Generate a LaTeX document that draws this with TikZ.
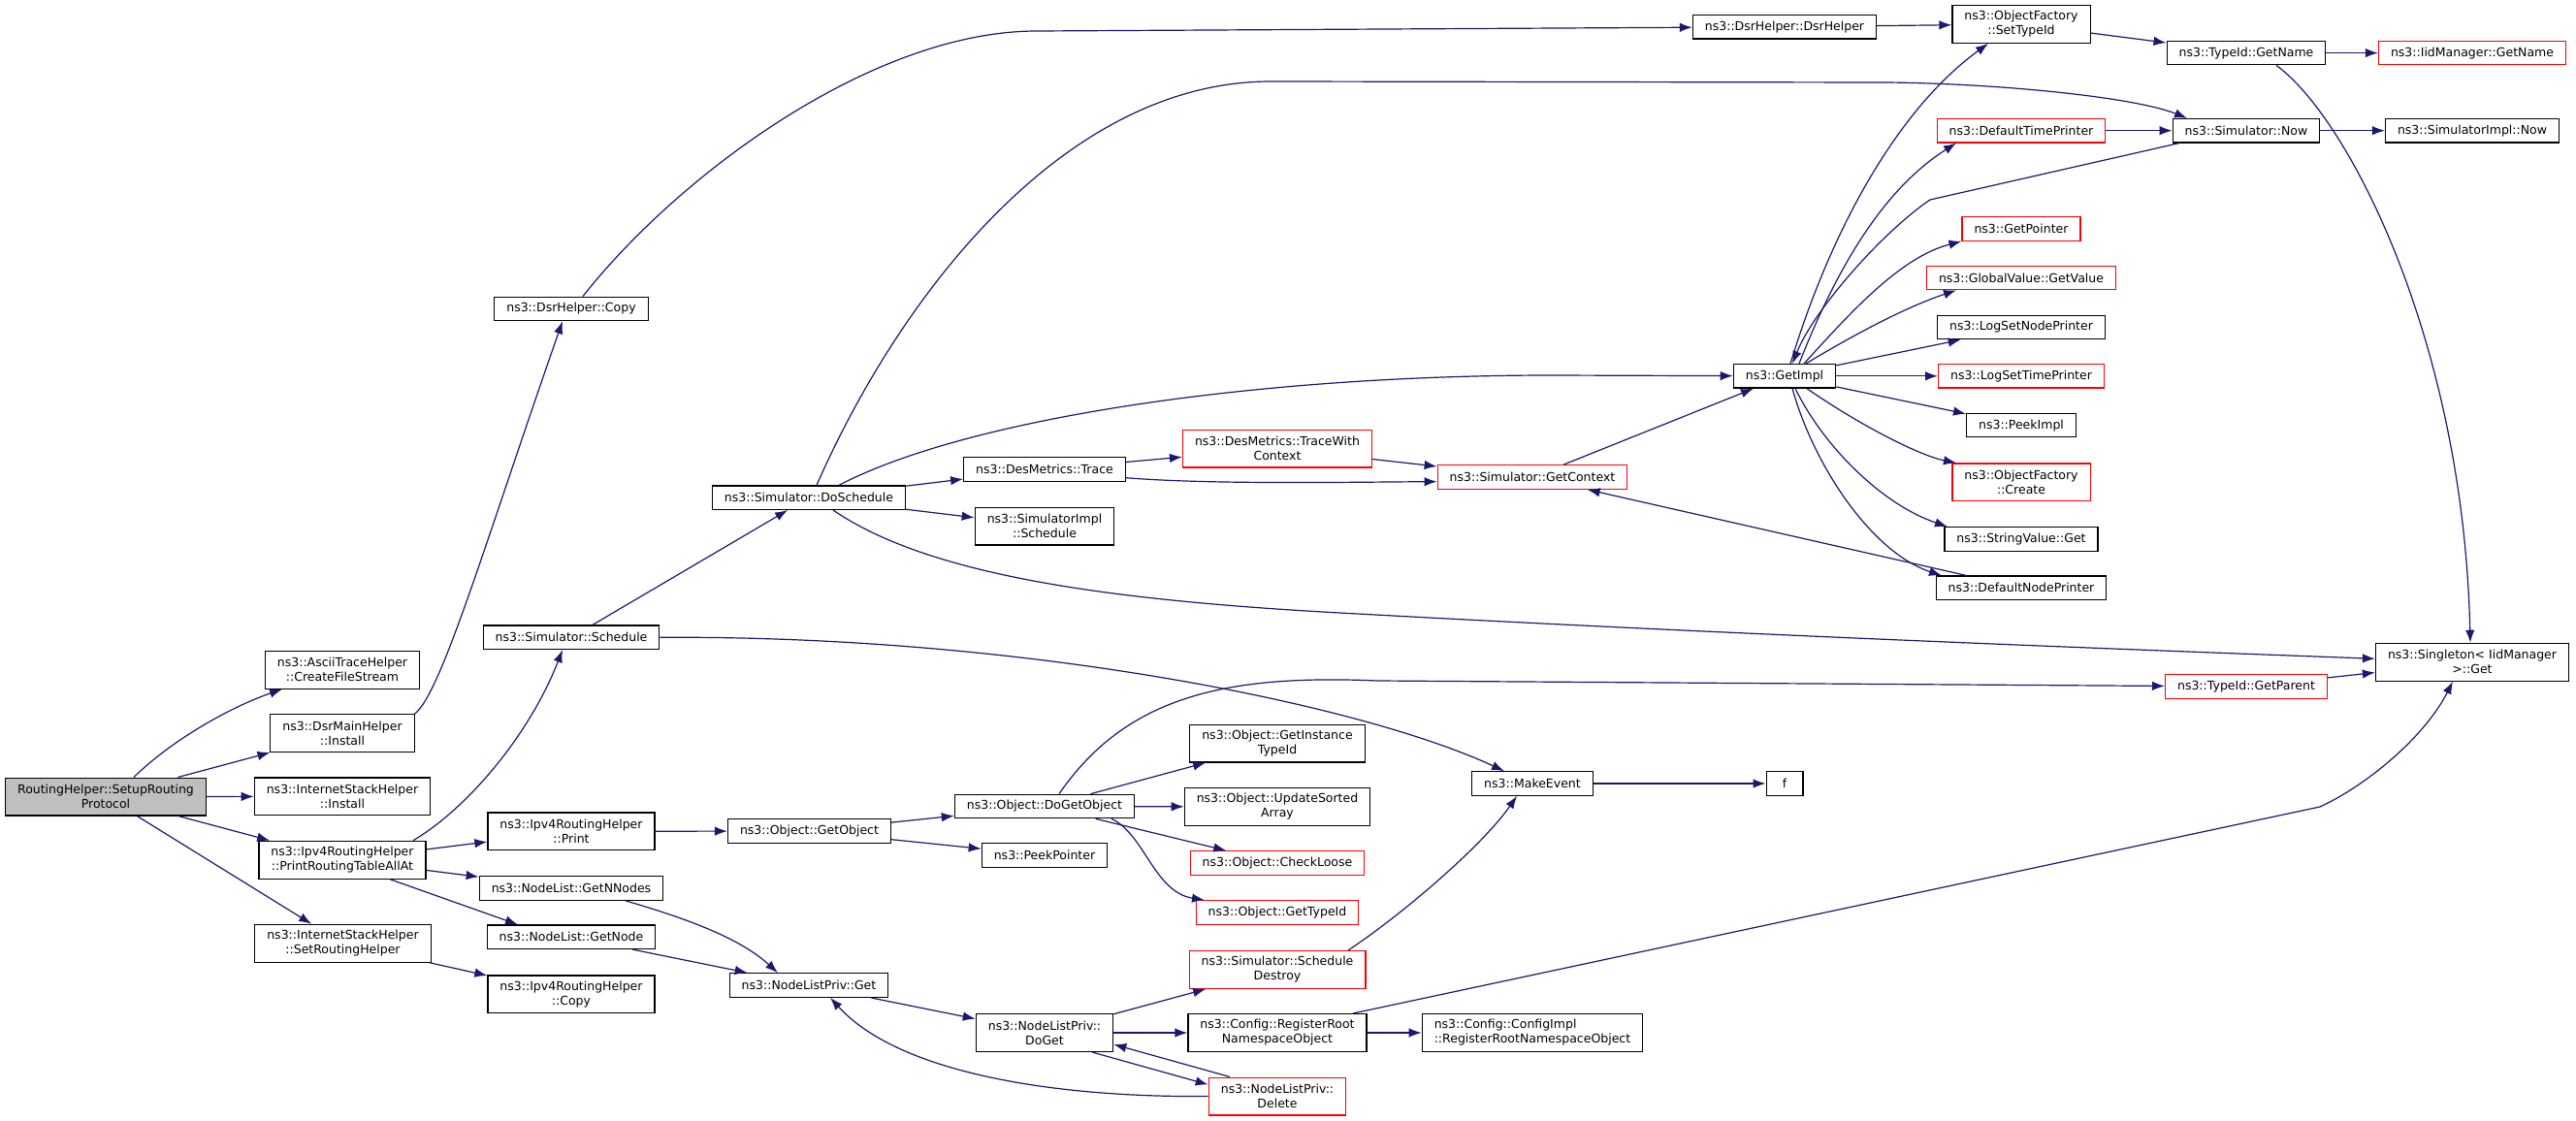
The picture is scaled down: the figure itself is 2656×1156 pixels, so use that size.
\documentclass[tikz,border=0pt]{standalone}
\usepackage{fontspec}
\setmainfont{DejaVu Sans}
\usepackage{tikz}
\usetikzlibrary{arrows.meta}
\definecolor{edgeblue}{HTML}{191970}
\definecolor{rootgray}{HTML}{BFBFBF}

\begin{document}
\begin{tikzpicture}[
    x=1pt, y=1pt,
    >={Latex[length=13pt,width=9.5pt]},
    font=\fontsize{12.5}{15}\selectfont,
    func/.style={
		rectangle,
		draw=black,
		line width=1.2pt,
		align=center,
		inner xsep=12.5pt,
		inner ysep=5pt,
		minimum height=24.5pt,
		fill=white
	},
	tall/.style={
		minimum height=38.8pt
	},
	missing/.style={
		func,
		draw=red
	},
	call/.style={
		->,
		draw=edgeblue,
		line width=1.2pt
	}
  ]
  \path [use as bounding box, fill=white] (0,0) rectangle (2656,-1156);

    % We start by placing the functions, column by column
  \node [func, tall, fill=rootgray] (setup) at (109,-821.5) {RoutingHelper::SetupRouting\\Protocol};

  \node [func, tall] (ascii) at (353,-690.7) {ns3::AsciiTraceHelper\\::CreateFileStream};
  \node [func, tall] (dsrmain) at (353,-756) {ns3::DsrMainHelper\\::Install};
  \node [func, tall] (isinstall) at (353,-821.3) {ns3::InternetStackHelper\\::Install};
  \node [func, tall] (printall) at (353,-886.7) {ns3::Ipv4RoutingHelper\\::PrintRoutingTableAllAt};
  \node [func, tall] (setrouting) at (353.5,-972.8) {ns3::InternetStackHelper\\::SetRoutingHelper};

  \node [func] (dsrcopy) at (589,-318.4) {ns3::DsrHelper::Copy};
  \node [func] (simschedule) at (589,-657.3) {ns3::Simulator::Schedule};
  \node [func, tall] (print) at (589,-857.3) {ns3::Ipv4RoutingHelper\\::Print};
  \node [func] (getnnodes) at (589,-916) {ns3::NodeList::GetNNodes};
  \node [func] (getnode) at (589,-966.3) {ns3::NodeList::GetNode};
  \node [func, tall] (ipv4copy) at (589,-1025.3) {ns3::Ipv4RoutingHelper\\::Copy};

  \node [func] (doschedule) at (834,-513.2) {ns3::Simulator::DoSchedule};
  \node [func] (getobject) at (834.5,-857) {ns3::Object::GetObject};
  \node [func] (nlpget) at (834,-1016) {ns3::NodeListPriv::Get};

  \node [func] (dstrace) at (1077,-484) {ns3::DesMetrics::Trace};
  \node [func, tall] (simimplsched) at (1077,-542.5) {ns3::SimulatorImpl\\::Schedule};
  \node [func] (dogetobject) at (1077,-831.5) {ns3::Object::DoGetObject};
  \node [func] (peekpointer) at (1077,-882) {ns3::PeekPointer};
  \node [func, tall] (doget) at (1077,-1065) {ns3::NodeListPriv::\\DoGet};

  \node [missing, tall] (tracectx) at (1317,-462.5) {ns3::DesMetrics::TraceWith\\Context};
  \node [func, tall] (getinst) at (1317,-766.5) {ns3::Object::GetInstance\\TypeId};
  \node [func, tall] (updsorted) at (1317,-832) {ns3::Object::UpdateSorted\\Array};
  \node [missing] (checkloose) at (1317,-890) {ns3::Object::CheckLoose};
  \node [missing] (gettypeid) at (1317,-941) {ns3::Object::GetTypeId};
  \node [missing, tall] (schdestroy) at (1317,-1000) {ns3::Simulator::Schedule\\Destroy};
  \node [func, tall] (regroot) at (1317,-1065) {ns3::Config::RegisterRoot\\NamespaceObject};
  \node [missing, tall] (nlpdelete) at (1317,-1130.5) {ns3::NodeListPriv::\\Delete};

  \node [missing] (getcontext) at (1580,-492) {ns3::Simulator::GetContext};
  \node [func] (makeevent) at (1580,-808) {ns3::MakeEvent};
  \node [func, tall, align=left] (cfgimpl) at (1580,-1065) {ns3::Config::ConfigImpl\\::RegisterRootNamespaceObject};

  \node [func] (dsrhelper) at (1840,-27.7) {ns3::DsrHelper::DsrHelper};
  \node [func] (getimpl) at (1840,-387.8) {ns3::GetImpl};
  \node [func, minimum width=37.8pt] (f) at (1840,-808) {f};

  \node [func, tall] (settypeid) at (2084,-24.9) {ns3::ObjectFactory\\::SetTypeId};
  \node [missing] (deftimeprinter) at (2084,-134.7) {ns3::DefaultTimePrinter};
  \node [missing] (getpointer) at (2084,-236) {ns3::GetPointer};
  \node [missing] (globalvalue) at (2084,-286.5) {ns3::GlobalValue::GetValue};
  \node [func] (lognodeprinter) at (2084,-337.5) {ns3::LogSetNodePrinter};
  \node [missing] (logtimeprinter) at (2084,-387.8) {ns3::LogSetTimePrinter};
  \node [func] (peekimpl) at (2084,-438.6) {ns3::PeekImpl};
  \node [missing, tall] (ofcreate) at (2084,-497.3) {ns3::ObjectFactory\\::Create};
  \node [func] (stringvalue) at (2084,-556) {ns3::StringValue::Get};
  \node [func] (defnodeprinter) at (2084,-606.3) {ns3::DefaultNodePrinter};

  \node [func] (getname) at (2316,-54.6) {ns3::TypeId::GetName};
  \node [func] (simnow) at (2316,-134.7) {ns3::Simulator::Now};
  \node [missing] (getparent) at (2316,-708) {ns3::TypeId::GetParent};

  \node [missing] (iidgetname) at (2549,-54.6) {ns3::IidManager::GetName};
  \node [func] (simimplnow) at (2549,-134.7) {ns3::SimulatorImpl::Now};
  \node [func, tall] (singleton) at (2549,-682.7) {ns3::Singleton< IidManager\\>::Get};

    % calls made by the entry point
  \draw [call] ([xshift=29pt]setup.north) .. controls (175,-765) and (235,-730) .. ([xshift=-62pt]ascii.south);
  \draw [call] (setup) -- (dsrmain);
  \draw [call] (setup) -- (isinstall);
  \draw [call] (setup) -- (printall);
  \draw [call] (setup) -- (setrouting);

  \draw [call] (dsrmain.north east) .. controls (455,-715) and (500,-560) .. ([xshift=-9pt]dsrcopy.south);
  \draw [call] ([xshift=12pt]dsrcopy.north) .. controls (700,-180) and (900,-32) .. (1069,-32) -- (dsrhelper);
  \draw [call] (dsrhelper) -- (settypeid);
  \draw [call] (settypeid) -- (getname);
  \draw [call] (getname) -- (iidgetname);
  \draw [call] ([xshift=31pt]getname.south) .. controls (2420,-120) and (2540,-350) .. ([xshift=-2pt]singleton.north);

  \draw [call] ([xshift=73pt]printall.north) .. controls (480,-835) and (545,-760) .. ([xshift=-9pt]simschedule.south);
  \draw [call] (printall) -- (print);
  \draw [call] (printall) -- (getnnodes);
  \draw [call] ([xshift=49pt]printall.south) -- ([xshift=-55pt]getnode.north);
  \draw [call] (setrouting) -- (ipv4copy);

    % scheduling
  \draw [call] (simschedule) -- (doschedule);
  \draw [call] (simschedule.east) .. controls (1050,-655) and (1400,-725) .. ([xshift=-29pt]makeevent.north);
  \draw [call] (doschedule) -- (dstrace);
  \draw [call] (doschedule) -- (simimplsched);
  \draw [call] ([xshift=8pt]doschedule.north) .. controls (930,-300) and (1100,-84) .. (1310,-84) -- (1944,-85) .. controls (2060,-86) and (2200,-100) .. ([xshift=-61pt]simnow.north);
  \draw [call] ([xshift=31pt]doschedule.north) .. controls (1000,-430) and (1300,-387) .. (1600,-387) -- (getimpl);
  \draw [call] ([xshift=25pt]doschedule.south) .. controls (960,-595) and (1150,-620) .. (1400,-633) .. controls (1800,-655) and (2200,-670) .. ([yshift=3.4pt]singleton.west);
  \draw [call] (dstrace) -- (tracectx);
  \draw [call] ([yshift=-8.7pt]dstrace.east) .. controls (1250,-500) and (1400,-497) .. ([yshift=-4.7pt]getcontext.west);
  \draw [call] (tracectx) -- (getcontext);
  \draw [call] (getcontext) -- (getimpl);
  \draw [call] (defnodeprinter) -- (getcontext);

    % everything that GetImpl fans out to
  \draw [call] ([xshift=6pt]getimpl.north) .. controls (1890,-230) and (1960,-110) .. ([xshift=-34pt]settypeid.south);
  \draw [call] ([xshift=15pt]getimpl.north) .. controls (1900,-260) and (1950,-190) .. ([xshift=-67pt]deftimeprinter.south);
  \draw [call] ([xshift=20pt]getimpl.north) .. controls (1910,-320) and (1960,-265) .. (getpointer.south west);
  \draw [call] ([xshift=22pt]getimpl.north) .. controls (1920,-340) and (1970,-315) .. ([xshift=-67pt]globalvalue.south);
  \draw [call] (getimpl) -- (lognodeprinter);
  \draw [call] (getimpl) -- (logtimeprinter);
  \draw [call] (getimpl) -- (peekimpl);
  \draw [call] ([xshift=23pt]getimpl.south) .. controls (1920,-440) and (1980,-470) .. ([xshift=-67pt]ofcreate.north);
  \draw [call] ([xshift=11pt]getimpl.south) .. controls (1880,-460) and (1940,-520) .. ([xshift=-76pt]stringvalue.north);
  \draw [call] ([xshift=8pt]getimpl.south) .. controls (1870,-480) and (1930,-570) .. ([xshift=-82pt]defnodeprinter.north);
  \draw [call] (deftimeprinter) -- (simnow);
  \draw [call] (simnow) -- (simimplnow);
  \draw [call] ([xshift=-69pt]simnow.south) -- (1990,-206) .. controls (1940,-240) and (1870,-320) .. ([xshift=8pt]getimpl.north);

    % objects
  \draw [call] (print) -- (getobject);
  \draw [call] (getobject) -- (dogetobject);
  \draw [call] (getobject) -- (peekpointer);
  \draw [call] (dogetobject) -- (getinst);
  \draw [call] (dogetobject) -- (updsorted);
  \draw [call] (dogetobject) -- (checkloose);
  \draw [call] ([xshift=69pt]dogetobject.south) .. controls (1180,-860) and (1190,-920) .. ([xshift=-75pt]gettypeid.north);
  \draw [call] ([xshift=15pt]dogetobject.north) .. controls (1160,-720) and (1260,-695) .. (1420,-702) -- (getparent);
  \draw [call] (getparent) -- (singleton);

    % node list
  \draw [call] ([xshift=56pt]getnnodes.south) .. controls (700,-945) and (760,-965) .. ([xshift=-32pt]nlpget.north);
  \draw [call] (getnode) -- (nlpget);
  \draw [call] (nlpget) -- (doget);
  \draw [call] (doget) -- (schdestroy);
  \draw [call] (doget) -- (regroot);
  \draw [call] ([xshift=49pt]doget.south) -- ([yshift=12pt]nlpdelete.west);
  \draw [call] ([xshift=-49pt]nlpdelete.north) -- ([yshift=-12pt]doget.east);
  \draw [call] (nlpdelete.west) .. controls (1100,-1132) and (930,-1110) .. ([xshift=22pt]nlpget.south);
  \draw [call] ([xshift=73pt]schdestroy.north) .. controls (1450,-940) and (1530,-870) .. ([xshift=-16pt]makeevent.south);
  \draw [call] (regroot) -- (cfgimpl);
  \draw [call] ([xshift=78pt]regroot.north) -- (2392,-832) .. controls (2440,-810) and (2500,-760) .. ([xshift=-20pt]singleton.south);
  \draw [call] (makeevent) -- (f);

\end{tikzpicture}
\end{document}
